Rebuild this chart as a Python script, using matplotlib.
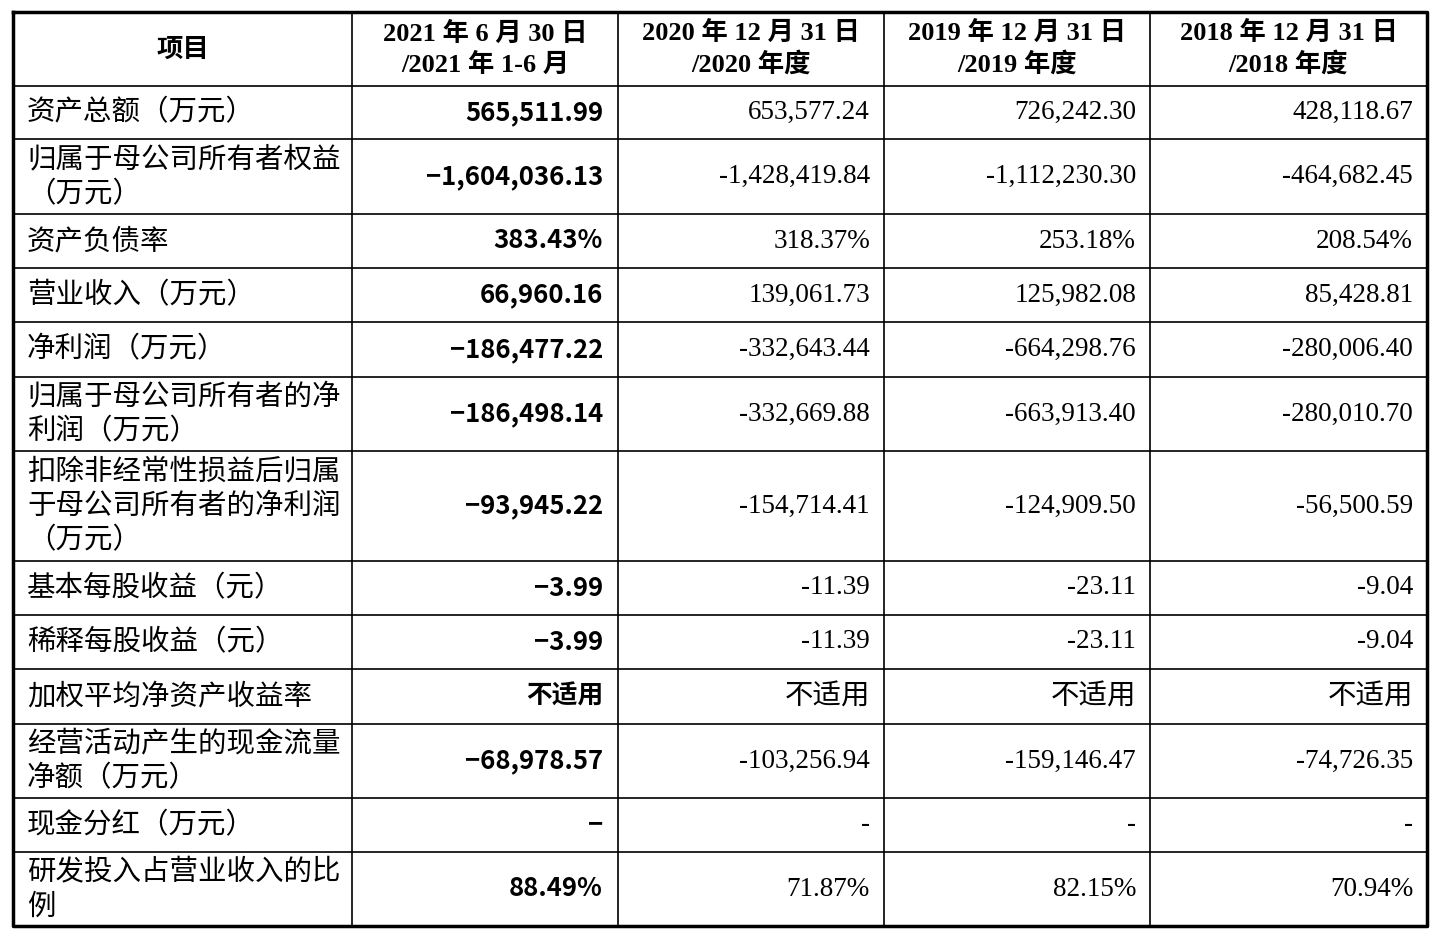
import matplotlib
matplotlib.use("Agg")
import matplotlib.pyplot as plt

headers = ["项目", "2021 年 6 月 30 日\n/2021 年 1-6 月", "2020 年 12 月 31 日\n/2020 年度",
           "2019 年 12 月 31 日\n/2019 年度", "2018 年 12 月 31 日\n/2018 年度"]
items = ["资产总额（万元）", "归属于母公司所有者权益\n（万元）", "资产负债率", "营业收入（万元）",
         "净利润（万元）", "归属于母公司所有者的净\n利润（万元）", "扣除非经常性损益后归属\n于母公司所有者的净利润\n（万元）",
         "基本每股收益（元）", "稀释每股收益（元）", "加权平均净资产收益率",
         "经营活动产生的现金流量\n净额（万元）", "现金分红（万元）", "研发投入占营业收入的比\n例"]
col2021 = ["565,511.99", "-1,604,036.13", "383.43%", "66,960.16", "-186,477.22", "-186,498.14",
           "-93,945.22", "-3.99", "-3.99", "不适用", "-68,978.57", "-", "88.49%"]
col2020 = ["653,577.24", "-1,428,419.84", "318.37%", "139,061.73", "-332,643.44", "-332,669.88",
           "-154,714.41", "-11.39", "-11.39", "不适用", "-103,256.94", "-", "71.87%"]
col2019 = ["726,242.30", "-1,112,230.30", "253.18%", "125,982.08", "-664,298.76", "-663,913.40",
           "-124,909.50", "-23.11", "-23.11", "不适用", "-159,146.47", "-", "82.15%"]
col2018 = ["428,118.67", "-464,682.45", "208.54%", "85,428.81", "-280,006.40", "-280,010.70",
           "-56,500.59", "-9.04", "-9.04", "不适用", "-74,726.35", "-", "70.94%"]

W, H = 1438, 940
fig = plt.figure(figsize=(W/100, H/100), dpi=100)
ax = fig.add_axes([0, 0, 1, 1])
ax.set_xlim(0, W); ax.set_ylim(H, 0); ax.axis("off")

xs = [13, 352, 618, 884, 1150, 1427]
ys = [12, 86, 139, 214, 268, 322, 377, 451, 561, 615, 669, 724, 798, 852, 926]

for y in ys[1:-1]:
    ax.plot([xs[0], xs[-1]], [y, y], color="black", lw=1.2)
for x in xs[1:-1]:
    ax.plot([x, x], [ys[0], ys[-1]], color="black", lw=1.2)
ax.plot([xs[0], xs[-1], xs[-1], xs[0], xs[0]], [ys[0], ys[0], ys[-1], ys[-1], ys[0]], color="black", lw=2.5)

cjk = "Noto Sans CJK SC"
serif = "Liberation Serif"
for i, h in enumerate(headers):
    ax.text((xs[i]+xs[i+1])/2, (ys[0]+ys[1])/2, h, ha="center", va="center", fontsize=19,
            fontfamily=[serif, cjk] if i else cjk, fontweight="bold", linespacing=1.35)

cols = [col2021, col2020, col2019, col2018]
for r, it in enumerate(items):
    yc = (ys[r+1]+ys[r+2])/2
    ax.text(27, yc, it, ha="left", va="center", fontsize=20.5, fontfamily=cjk, linespacing=1.2)
    for c, col in enumerate(cols):
        v = col[r]
        if c == 0:
            ax.text(xs[2]-15, yc, v.replace("-", "−") if v != "-" else "−", ha="right", va="center",
                    fontsize=18.5, fontfamily=cjk, fontweight="bold")
        else:
            if v == "不适用":
                ax.text(xs[c+2]-14, yc, v, ha="right", va="center", fontsize=20.5, fontfamily=cjk)
            else:
                ax.text(xs[c+2]-14, yc, v, ha="right", va="center", fontsize=19.5, fontfamily=serif)

fig.savefig("out.png", dpi=100)
